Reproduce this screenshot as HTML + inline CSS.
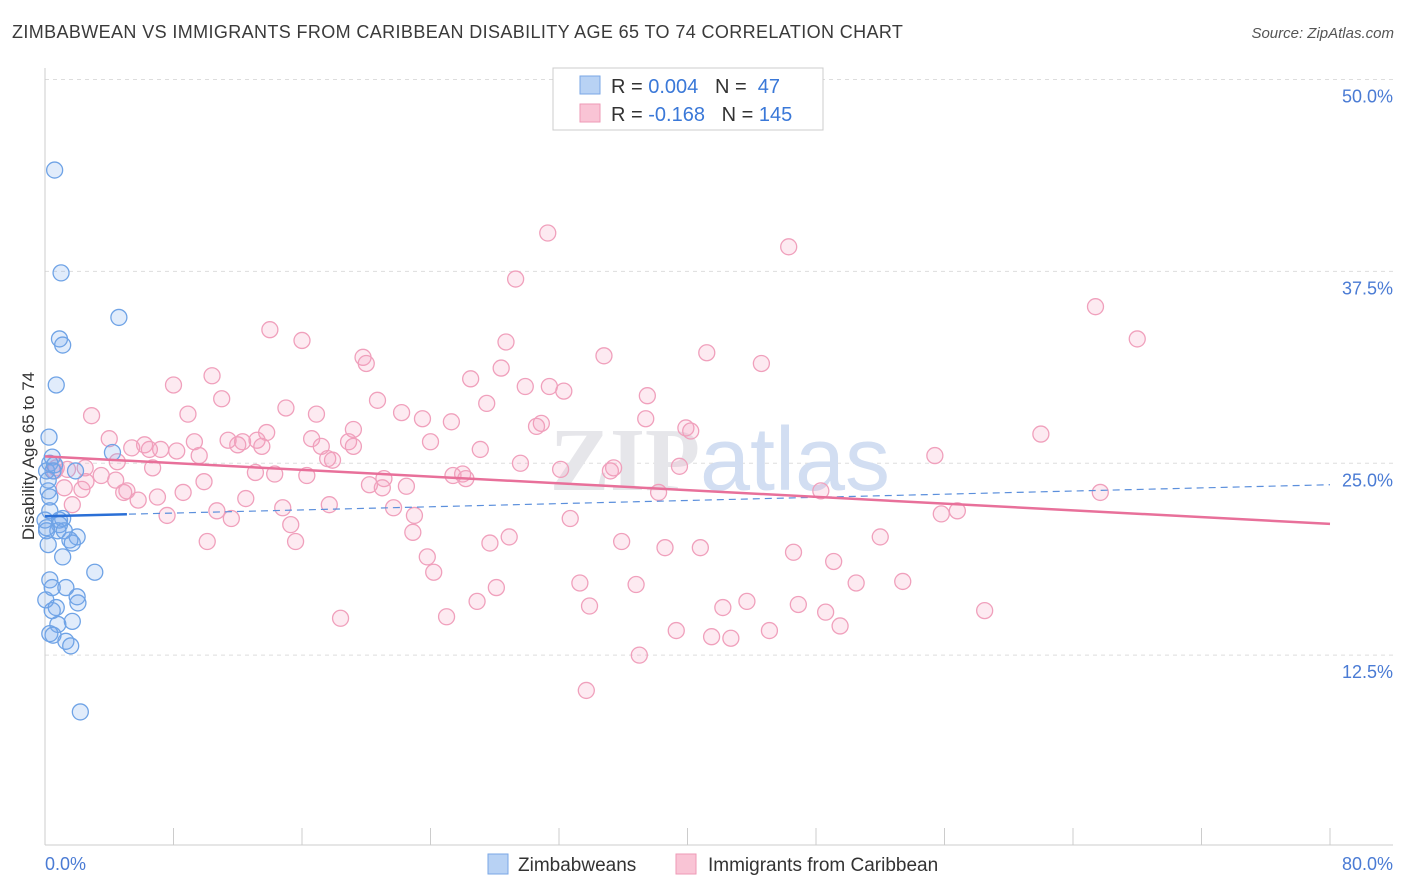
<!DOCTYPE html>
<html><head><meta charset="utf-8">
<style>
body{margin:0;background:#fff;font-family:"Liberation Sans",sans-serif;}
#wrap{position:relative;width:1406px;height:892px;overflow:hidden;}
.t{position:absolute;white-space:nowrap;}
</style></head>
<body>
<div id="wrap">
<div class="t" style="left:12px;top:22px;font-size:18px;letter-spacing:0.38px;color:#3a3a3a;">ZIMBABWEAN VS IMMIGRANTS FROM CARIBBEAN DISABILITY AGE 65 TO 74 CORRELATION CHART</div>
<div class="t" style="right:12px;top:25px;font-size:15px;color:#555;font-style:italic;">Source: ZipAtlas.com</div>
<svg id="svg" width="1406" height="892" style="position:absolute;left:0;top:0"></svg>
</div>
<script>
const xTicks=[0,80];
const yTicks=[12.5,25,37.5,50];
const blueX=[0.6,1.0,4.6,0.9,1.1,0.7,0.25,0.45,0.3,0.1,4.2,1.9,0.2,0.3,0.3,1.1,0.9,0.8,0.1,2.0,1.7,0.2,1.1,3.1,0.3,0.45,1.3,2.0,2.05,0.7,0.45,1.7,0.8,0.3,0.5,1.3,1.6,2.2,0.1,0.0,0.6,1.2,0.5,0.9,0.05,1.55,0.2];
const blueY=[44.1,37.4,34.5,33.1,32.7,30.1,26.7,25.4,25.0,24.5,25.7,24.5,23.2,22.8,21.9,21.4,21.0,20.6,20.8,20.2,19.8,19.7,18.9,17.9,17.4,16.9,16.9,16.3,15.9,15.6,15.4,14.7,14.5,13.9,13.8,13.4,13.1,8.8,20.6,21.3,24.9,20.6,24.5,21.3,16.1,20.0,23.9];
const pinkX=[31.3,46.3,29.3,65.4,68.0,14.0,16.0,28.7,41.2,34.8,19.8,20.0,44.6,28.4,10.4,26.5,8.0,29.9,31.4,32.3,37.5,11.0,20.7,27.5,15.0,22.2,8.9,16.9,2.9,23.5,37.4,25.3,30.9,30.6,19.2,39.9,40.2,13.8,62.0,4.0,16.6,13.2,11.4,9.3,24.0,12.3,18.9,12.0,6.2,13.5,17.2,19.2,5.4,7.2,6.5,8.2,27.1,9.6,55.4,17.6,17.9,4.5,29.6,6.7,32.1,35.4,35.2,39.5,13.1,14.3,2.5,1.4,0.7,0.6,26.0,3.5,16.3,21.1,25.4,26.2,2.55,9.9,4.4,20.2,21.0,22.5,1.2,2.3,5.1,4.9,8.6,48.3,38.2,65.7,7.0,5.8,12.5,1.7,14.8,17.7,21.7,10.7,23.0,7.6,55.8,56.8,11.6,32.7,15.3,22.9,28.9,52.0,10.1,15.6,27.7,35.9,38.6,40.8,46.6,23.8,49.1,24.2,33.3,36.8,50.5,53.4,28.1,26.9,43.7,33.9,42.2,46.9,58.5,48.6,18.4,25.0,49.5,39.3,45.1,41.5,42.7,37.0,33.7];
const pinkY=[40.0,39.1,37.0,35.2,33.1,33.7,33.0,32.9,32.2,32.0,31.9,31.5,31.5,31.2,30.7,30.5,30.1,30.0,30.0,29.7,29.4,29.2,29.1,28.9,28.6,28.3,28.2,28.2,28.1,27.9,27.9,27.7,27.6,27.4,27.2,27.3,27.1,27.0,26.9,26.6,26.6,26.5,26.5,26.4,26.4,26.4,26.4,26.2,26.2,26.1,26.1,26.1,26.0,25.9,25.9,25.8,25.9,25.5,25.5,25.3,25.2,25.1,25.0,24.7,24.6,24.7,24.5,24.8,24.4,24.3,24.7,24.6,24.7,24.5,24.3,24.2,24.2,24.0,24.2,24.0,23.8,23.8,23.9,23.6,23.4,23.5,23.4,23.3,23.2,23.1,23.1,23.2,23.1,23.1,22.8,22.6,22.7,22.3,22.1,22.3,22.1,21.9,21.6,21.6,21.7,21.9,21.4,21.4,21.0,20.5,20.2,20.2,19.9,19.9,19.8,19.9,19.5,19.5,19.2,18.9,18.6,17.9,17.2,17.1,17.2,17.3,16.9,16.0,16.0,15.7,15.6,15.8,15.4,15.3,14.9,15.0,14.4,14.1,14.1,13.7,13.6,12.5,10.2];
const blueTrend=[21.55,23.6];
const blueSolidEnd=5.1;
const pinkTrend=[25.45,21.05];

const svg=document.getElementById('svg');const NS='http://www.w3.org/2000/svg';
const X0=45,X1=1330,Y0=847,PXY=15.35;
const sx=v=>X0+(v/80)*(X1-X0), sy=v=>Y0-v*PXY;
function el(tag,a,name,parent){const e=document.createElementNS(NS,tag);for(const k in a)e.setAttribute(k,a[k]);


(parent||svg).appendChild(e);return e;}
yTicks.forEach(v=>{el('line',{x1:X0,x2:1393,y1:sy(v),y2:sy(v),stroke:'#dddddd','stroke-dasharray':'4,4'},'gridline');
const t=el('text',{x:1393,y:sy(v)+23,'text-anchor':'end','font-size':18,fill:'#4a7bd4','font-family':'Liberation Sans'},'y-tick-label');t.textContent=v.toFixed(1)+'%';});
el('line',{x1:X0,x2:X0,y1:68,y2:845,stroke:'#cccccc'},'y-axis');
el('line',{x1:X0,x2:1393,y1:845,y2:845,stroke:'#cccccc'},'x-axis');
for(let i=0;i<=10;i++){el('line',{x1:sx(i*8),x2:sx(i*8),y1:828,y2:845,stroke:'#cccccc'},'x-tick');}
xTicks.forEach((v,i)=>{const t=el('text',{x:i==0?45:1393,y:870,'text-anchor':i==0?'start':'end','font-size':18,fill:'#4a7bd4','font-family':'Liberation Sans'},'x-tick-label');t.textContent=v.toFixed(1)+'%';});
const yt=el('text',{x:34,y:456,'text-anchor':'middle','font-size':17,fill:'#333',transform:'rotate(-90 34 456)','font-family':'Liberation Sans'},'y-axis-title');yt.textContent='Disability Age 65 to 74';
const w=el('text',{x:720,y:490,'text-anchor':'middle','font-size':90,fill:'#e6e6ea','font-family':'Liberation Serif','font-weight':'bold'},'watermark');w.innerHTML='ZIP<tspan fill="#d2def2" font-family="Liberation Sans" font-weight="normal">atlas</tspan>';
pinkX.forEach((v,i)=>el('circle',{cx:sx(v),cy:sy(pinkY[i]),r:8,fill:'rgba(244,160,190,0.22)',stroke:'#f0a0bc','stroke-width':1.3},'pink-point'));
blueX.forEach((v,i)=>el('circle',{cx:sx(v),cy:sy(blueY[i]),r:8,fill:'rgba(120,170,235,0.22)',stroke:'#6fa3e6','stroke-width':1.3},'blue-point'));
el('line',{x1:sx(0),y1:sy(blueTrend[0]),x2:sx(80),y2:sy(blueTrend[1]),stroke:'#5b8fdc','stroke-width':1.2,'stroke-dasharray':'7,5'},'blue-trend-dashed');
const bs=blueTrend[0]+(blueTrend[1]-blueTrend[0])*blueSolidEnd/80;
el('line',{x1:sx(0),y1:sy(blueTrend[0]),x2:sx(blueSolidEnd),y2:sy(bs),stroke:'#2a6fd6','stroke-width':2.5},'blue-trend-solid');
el('line',{x1:sx(0),y1:sy(pinkTrend[0]),x2:sx(80),y2:sy(pinkTrend[1]),stroke:'#e8709a','stroke-width':2.5},'pink-trend');
const g=el('g',{},'legend');
el('rect',{x:553,y:68,width:270,height:62,fill:'#fff',stroke:'#cccccc'},'legend-box',g);
el('rect',{x:580,y:76,width:20,height:18,fill:'#b8d2f4',stroke:'#7aa7e6'},'legend-swatch-blue',g);
el('rect',{x:580,y:104,width:20,height:18,fill:'#f9c4d5',stroke:'#ee9ab6'},'legend-swatch-pink',g);
const l1=el('text',{x:611,y:93,'font-size':20,fill:'#333','font-family':'Liberation Sans'},'legend-entry-blue',g);
l1.innerHTML='R = <tspan fill="#3a78d8">0.004</tspan>   N =  <tspan fill="#3a78d8">47</tspan>';l1.style.whiteSpace='pre';
const l2=el('text',{x:611,y:121,'font-size':20,fill:'#333','font-family':'Liberation Sans'},'legend-entry-pink',g);
l2.innerHTML='R = <tspan fill="#3a78d8">-0.168</tspan>   N = <tspan fill="#3a78d8">145</tspan>';l2.style.whiteSpace='pre';
el('rect',{x:488,y:854,width:20,height:20,fill:'#b8d2f4',stroke:'#7aa7e6'},'bottom-legend-swatch-blue');
const b1=el('text',{x:518,y:871,'font-size':19,fill:'#333','font-family':'Liberation Sans'},'bottom-legend-zimbabweans');b1.textContent='Zimbabweans';
el('rect',{x:676,y:854,width:20,height:20,fill:'#f9c4d5',stroke:'#ee9ab6'},'bottom-legend-swatch-pink');
const b2=el('text',{x:708,y:871,'font-size':19,fill:'#333','font-family':'Liberation Sans'},'bottom-legend-caribbean');b2.textContent='Immigrants from Caribbean';
</script>
</body></html>
